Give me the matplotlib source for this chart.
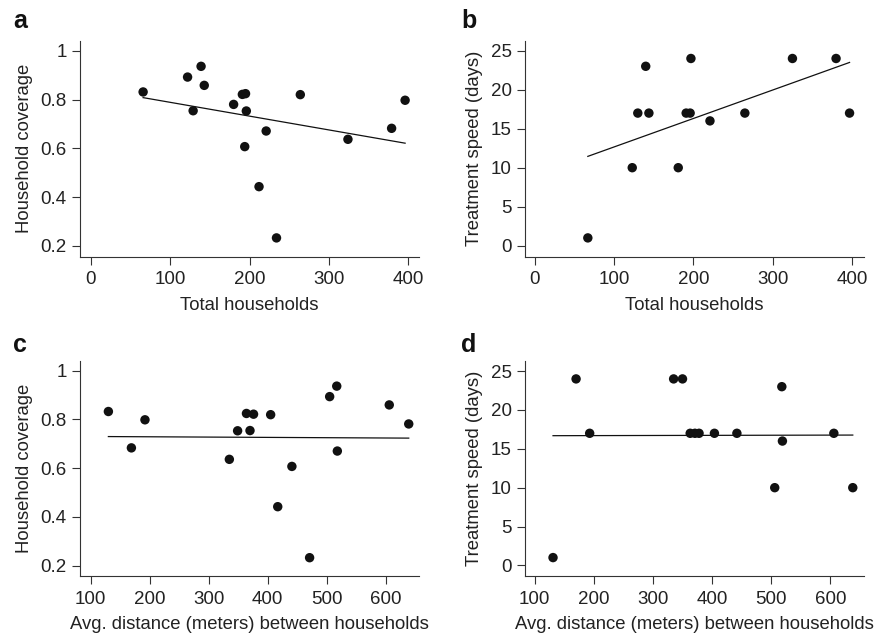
import numpy as np
import matplotlib
matplotlib.use('Agg')
import matplotlib.pyplot as plt

plt.rcParams['font.family'] = ['Liberation Sans', 'DejaVu Sans']

# panel a / c: household coverage
total_hh_cov = [66, 122, 129, 139, 143, 180, 191, 195, 196, 194, 221, 212, 234, 264, 324, 379, 396]
coverage_a = [0.831, 0.892, 0.754, 0.936, 0.858, 0.780, 0.821, 0.824, 0.753, 0.607, 0.671, 0.443, 0.233, 0.820, 0.637, 0.682, 0.797]

dist_cov = [130, 169, 192, 335, 349, 364, 370, 376, 405, 417, 441, 471, 505, 517, 518, 606, 639]
coverage_c = [0.832, 0.683, 0.798, 0.636, 0.753, 0.824, 0.754, 0.821, 0.819, 0.442, 0.607, 0.233, 0.893, 0.936, 0.670, 0.859, 0.781]

# panel b / d: treatment speed
total_hh_speed = [67, 123, 130, 140, 144, 181, 191, 196, 197, 221, 265, 325, 380, 397]
speed_b = [1, 10, 17, 23, 17, 10, 17, 17, 24, 16, 17, 24, 24, 17]

dist_speed = [131, 170, 193, 335, 350, 363, 371, 378, 404, 442, 506, 518, 519, 606, 638]
speed_d = [1, 24, 17, 24, 24, 17, 17, 17, 17, 17, 10, 23, 16, 17, 10]

cov_ticks = [0.2, 0.4, 0.6, 0.8, 1.0]
cov_labels = ['0.2', '0.4', '0.6', '0.8', '1']
speed_ticks = [0, 5, 10, 15, 20, 25]
hh_ticks = [0, 100, 200, 300, 400]
dist_ticks = [100, 200, 300, 400, 500, 600]

W, H = 877, 633
fig = plt.figure(figsize=(W / 100, H / 100), dpi=100)

def px_axes(l, t, r, b):
    return fig.add_axes([l / W, 1 - b / H, (r - l) / W, (b - t) / H])

panels = [
    ('a', 13, 28, px_axes(80, 40.7, 419, 256.7), total_hh_cov, coverage_a,
     (-13.5, 413.5), (0.156, 1.041), hh_ticks, cov_ticks, cov_labels,
     'Total households', 'Household coverage'),
    ('b', 461, 28, px_axes(524.7, 40.7, 864.3, 256.7), total_hh_speed, speed_b,
     (-12.6, 415.6), (-1.41, 26.28), hh_ticks, speed_ticks, None,
     'Total households', 'Treatment speed (days)'),
    ('c', 13, 352, px_axes(80, 360.5, 419, 576), dist_cov, coverage_c,
     (81.9, 656.4), (0.158, 1.041), dist_ticks, cov_ticks, cov_labels,
     'Avg. distance (meters) between households', 'Household coverage'),
    ('d', 461, 352, px_axes(524.7, 360.5, 864.3, 576), dist_speed, speed_d,
     (83.1, 657.5), (-1.37, 26.37), dist_ticks, speed_ticks, None,
     'Avg. distance (meters) between households', 'Treatment speed (days)'),
]

for letter, lx, ly, ax, x, y, xl, yl, xt, yt, ytl, xlab, ylab in panels:
    x = np.array(x, float)
    y = np.array(y, float)
    ax.scatter(x, y, s=46, color='#111111', edgecolors='none', zorder=3)
    k, c0 = np.polyfit(x, y, 1)
    xs = np.array([x.min(), x.max()])
    ax.plot(xs, k * xs + c0, color='#111111', lw=0.9, zorder=2)
    ax.set_xlim(*xl)
    ax.set_ylim(*yl)
    ax.set_xticks(xt)
    ax.set_yticks(yt)
    if ytl:
        ax.set_yticklabels(ytl)
    for s in ['top', 'right']:
        ax.spines[s].set_visible(False)
    for s in ['left', 'bottom']:
        ax.spines[s].set_linewidth(0.8)
        ax.spines[s].set_color('#333333')
    ax.tick_params(direction='out', length=5.5, width=0.8, color='#333333',
                   labelsize=13.5, labelcolor='#222222')
    ax.tick_params(axis='x', pad=5)
    ax.tick_params(axis='y', pad=4)
    ax.set_xlabel(xlab, fontsize=13.3, color='#222222', labelpad=6)
    ax.set_ylabel(ylab, fontsize=13.3, color='#222222', labelpad=5.5)
    fig.text(lx / W, 1 - ly / H, letter, fontsize=18, fontweight='bold',
             ha='left', va='baseline', color='#111111')

fig.savefig('out.png', dpi=100)
